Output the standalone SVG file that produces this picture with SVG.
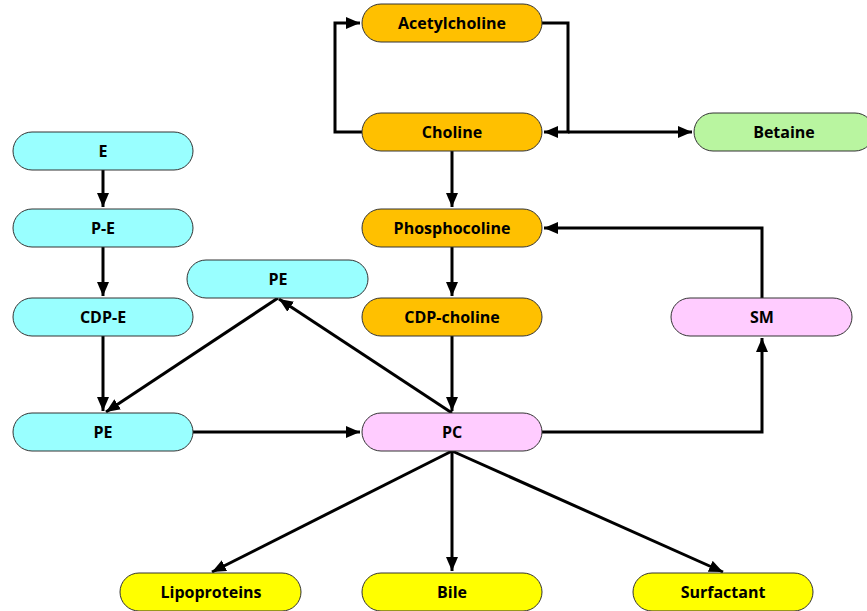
<svg xmlns="http://www.w3.org/2000/svg" width="867" height="611" viewBox="0 0 867 611">
<defs>
<marker id="ah" viewBox="0 0 14 12" refX="14" refY="6" markerWidth="14" markerHeight="12" markerUnits="userSpaceOnUse" orient="auto">
<path d="M0,0 L14,6 L0,12 Z" fill="#000"/>
</marker>
</defs>
<style>
.n rect{stroke:#333;stroke-width:1}
.n text{font-family:"Open Sans",Lato,"Liberation Sans",sans-serif;font-weight:bold;font-size:16px;fill:#000;text-anchor:middle;dominant-baseline:central}
.o rect{fill:#FFC000}
.c rect{fill:#99FFFF}
.p rect{fill:#FFCCFF}
.y rect{fill:#FFFF00}
.g rect{fill:#B9F5A0}
.e path{fill:none;stroke:#000;stroke-width:3;marker-end:url(#ah)}
</style>
<rect width="867" height="611" fill="#fff"/>
<g id="connectors" class="e">
<path d="M362,132 H335 V23 H360"/>
<path d="M542,23 H568 V132 H544"/>
<path d="M568,132 H692"/>
<path d="M452,151 V207"/>
<path d="M452,247 V296"/>
<path d="M452,336 V411"/>
<path d="M103,170 V207"/>
<path d="M103,247 V296"/>
<path d="M103,336 V411"/>
<path d="M278,298 L106,412"/>
<path d="M452,413 L279,299"/>
<path d="M193,432 H360"/>
<path d="M542,432 H762 V338"/>
<path d="M762,298 V228 H544"/>
<path d="M452,451 L212,572"/>
<path d="M452,451 V571"/>
<path d="M452,451 L723,572"/>
</g>
<g id="acetylcholine" class="n o"><rect x="362" y="4" width="180" height="38" rx="19"/><text x="452" y="22.5">Acetylcholine</text></g>
<g id="choline" class="n o"><rect x="362" y="113" width="180" height="38" rx="19"/><text x="452" y="131.5">Choline</text></g>
<g id="betaine" class="n g"><rect x="694" y="113" width="180" height="38" rx="19"/><text x="784" y="131.5">Betaine</text></g>
<g id="phosphocoline" class="n o"><rect x="362" y="209" width="180" height="38" rx="19"/><text x="452" y="227.5">Phosphocoline</text></g>
<g id="cdp-choline" class="n o"><rect x="362" y="298" width="180" height="38" rx="19"/><text x="452" y="316.5">CDP-choline</text></g>
<g id="e" class="n c"><rect x="13" y="132" width="180" height="38" rx="19"/><text x="103" y="150.5">E</text></g>
<g id="p-e" class="n c"><rect x="13" y="209" width="180" height="38" rx="19"/><text x="103" y="227.5">P-E</text></g>
<g id="cdp-e" class="n c"><rect x="13" y="298" width="180" height="38" rx="19"/><text x="103" y="316.5">CDP-E</text></g>
<g id="pe-upper" class="n c"><rect x="187" y="260" width="181" height="38" rx="19"/><text x="278" y="278.5">PE</text></g>
<g id="pe-lower" class="n c"><rect x="13" y="413" width="180" height="38" rx="19"/><text x="103" y="431.5">PE</text></g>
<g id="pc" class="n p"><rect x="362" y="413" width="180" height="38" rx="19"/><text x="452" y="431.5">PC</text></g>
<g id="sm" class="n p"><rect x="671" y="298" width="181" height="38" rx="19"/><text x="762" y="316.5">SM</text></g>
<g id="lipoproteins" class="n y"><rect x="120" y="573" width="181" height="38" rx="19"/><text x="211" y="591.5">Lipoproteins</text></g>
<g id="bile" class="n y"><rect x="362" y="573" width="180" height="38" rx="19"/><text x="452" y="591.5">Bile</text></g>
<g id="surfactant" class="n y"><rect x="633" y="573" width="180" height="38" rx="19"/><text x="723" y="591.5">Surfactant</text></g>
</svg>
